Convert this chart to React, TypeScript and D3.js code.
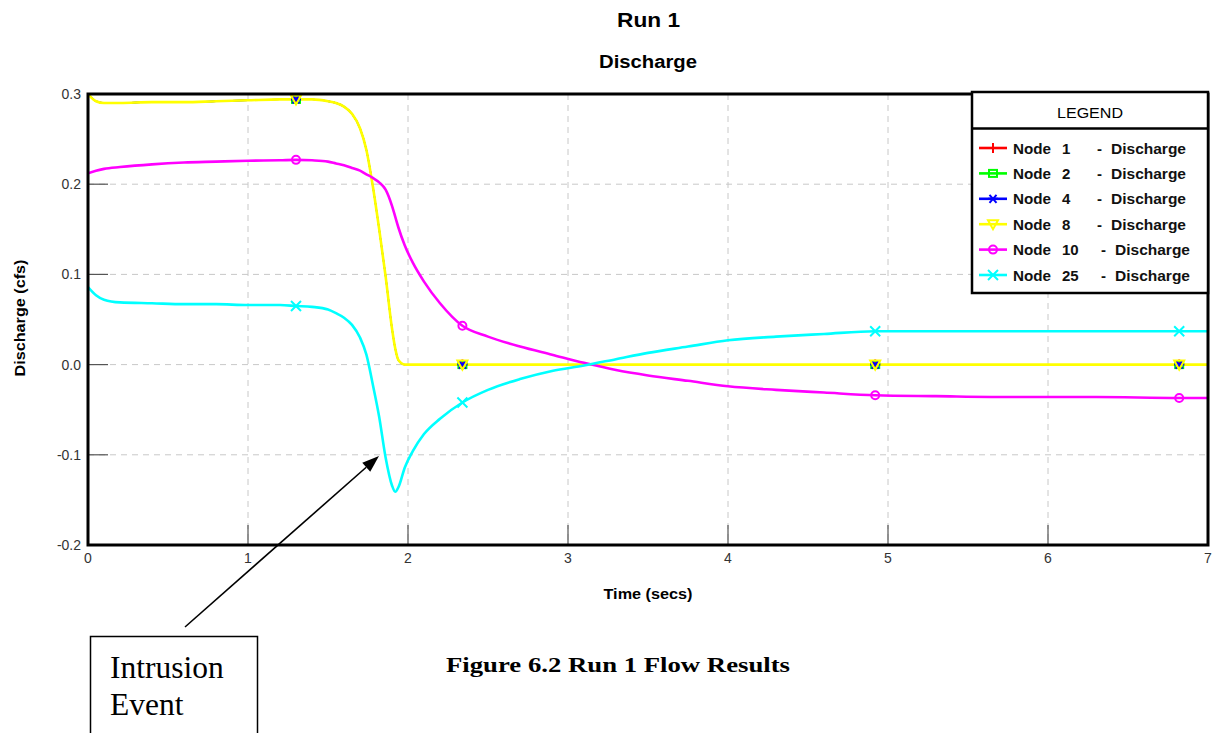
import React from "react";
import * as d3 from "d3";

// Simulation output times (s)
const timeSecs = [
  0, 0.05, 0.1, 0.2, 0.4, 0.6, 0.8, 1.0, 1.2, 1.3, 1.4, 1.5, 1.55, 1.6, 1.65, 1.7,
  1.74, 1.78, 1.82, 1.86, 1.9, 1.92, 1.94, 1.98, 2.03, 2.1, 2.2, 2.34, 2.5, 2.7,
  2.9, 3.1, 3.3, 3.5, 3.75, 4.0, 4.3, 4.6, 4.92, 5.3, 5.8, 6.3, 6.82, 7.0,
];

// Discharge (cfs) at Node 8; Nodes 1, 2 and 4 carry the same flow
const node8Flow = [
  0.3, 0.292, 0.29, 0.29, 0.291, 0.291, 0.292, 0.293, 0.294, 0.294, 0.294, 0.292, 0.29,
  0.286, 0.278, 0.262, 0.238, 0.198, 0.15, 0.098, 0.04, 0.018, 0.005, 0.0, 0.0, 0.0,
  0.0, 0.0, 0.0, 0.0, 0.0, 0.0, 0.0, 0.0, 0.0, 0.0, 0.0, 0.0, 0.0, 0.0, 0.0, 0.0, 0.0, 0.0,
];
const node1Flow = node8Flow;
const node2Flow = node8Flow;
const node4Flow = node8Flow;

const node10Flow = [
  0.212, 0.215, 0.217, 0.219, 0.222, 0.224, 0.225, 0.226, 0.2265, 0.227, 0.2265, 0.225,
  0.223, 0.221, 0.218, 0.215, 0.211, 0.207, 0.202, 0.194, 0.176, 0.164, 0.152, 0.132,
  0.113, 0.092, 0.068, 0.043, 0.031, 0.02, 0.011, 0.002, -0.006, -0.012, -0.018, -0.024,
  -0.028, -0.031, -0.034, -0.035, -0.036, -0.036, -0.037, -0.037,
];

const node25Flow = [
  0.086, 0.077, 0.072, 0.069, 0.068, 0.067, 0.067, 0.066, 0.066, 0.065, 0.064, 0.061,
  0.057, 0.052, 0.044, 0.03, 0.011, -0.022, -0.058, -0.103, -0.134, -0.141, -0.136,
  -0.114, -0.096, -0.077, -0.06, -0.042, -0.028, -0.016, -0.007, -0.001, 0.006, 0.013,
  0.02, 0.027, 0.031, 0.034, 0.037, 0.037, 0.037, 0.037, 0.037, 0.037,
];

// Times at which symbols are plotted on each curve
const markerTimes = [1.3, 2.34, 4.92, 6.82];

const xTicks = [0, 1, 2, 3, 4, 5, 6, 7];
const yTicks = [-0.2, -0.1, 0.0, 0.1, 0.2, 0.3];

type Symbol = "plus" | "square" | "asterisk" | "triangle" | "circle" | "cross";

const seriesNames = ["Node  1", "Node  2", "Node  4", "Node  8", "Node  10", "Node  25"];
const seriesColors = ["#ff0000", "#00ff00", "#0000ff", "#ffff00", "#ff00ff", "#00ffff"];
const seriesSymbols: Symbol[] = ["plus", "square", "asterisk", "triangle", "circle", "cross"];
const seriesValues = [node1Flow, node2Flow, node4Flow, node8Flow, node10Flow, node25Flow];
// Nodes 1, 2 and 4 lie beneath Node 8, so their traces are drawn thinner
const seriesWidths = [1.4, 1.4, 1.4, 2.6, 2.6, 2.6];

const W = 1231;
const H = 733;
const plot = { left: 88, right: 1208, top: 94, bottom: 545 };

const sans = "'Liberation Sans', Arial, Helvetica, sans-serif";
const serif = "'Liberation Serif', 'Times New Roman', Times, serif";

function Marker({ kind, x, y, color }: { kind: Symbol; x: number; y: number; color: string }) {
  const s = 5;
  const common = { stroke: color, strokeWidth: 2, fill: "none" } as const;
  switch (kind) {
    case "plus":
      return <path d={`M${x - s},${y}H${x + s}M${x},${y - s}V${y + s}`} {...common} />;
    case "square":
      return <rect x={x - 4} y={y - 3.5} width={8} height={7} {...common} />;
    case "asterisk":
      return (
        <path
          d={`M${x - s},${y}H${x + s}M${x - 3.5},${y - 4}L${x + 3.5},${y + 4}M${x - 3.5},${y + 4}L${x + 3.5},${y - 4}`}
          {...common}
        />
      );
    case "triangle":
      return <path d={`M${x - 5},${y - 4}H${x + 5}L${x},${y + 5}Z`} {...common} />;
    case "circle":
      return <circle cx={x} cy={y} r={4} {...common} />;
    case "cross":
      return <path d={`M${x - 5},${y - 5}L${x + 5},${y + 5}M${x - 5},${y + 5}L${x + 5},${y - 5}`} {...common} />;
  }
}

export default function App() {
  const x = d3.scaleLinear().domain([0, 7]).range([plot.left, plot.right]);
  const y = d3.scaleLinear().domain([-0.2, 0.3]).range([plot.bottom, plot.top]);

  const line = d3
    .line<number>()
    .x((_, i) => x(timeSecs[i]))
    .y((v) => y(v))
    .curve(d3.curveMonotoneX);

  const legendX = 972;
  const legendY = 92;
  const legendW = 236;
  const legendH = 201;
  const rowY = (i: number) => 148 + i * 25.4;

  // Annotation arrow
  const arrowFrom: [number, number] = [185, 627];
  const arrowTo: [number, number] = [379, 456];
  const ang = Math.atan2(arrowTo[1] - arrowFrom[1], arrowTo[0] - arrowFrom[0]);
  const headLen = 17;
  const headHalf = 6;
  const bx = arrowTo[0] - headLen * Math.cos(ang);
  const by = arrowTo[1] - headLen * Math.sin(ang);
  const head = [
    [arrowTo[0], arrowTo[1]],
    [bx + headHalf * Math.sin(ang), by - headHalf * Math.cos(ang)],
    [bx - headHalf * Math.sin(ang), by + headHalf * Math.cos(ang)],
  ];

  const legendFont = 15;

  return (
    <svg
      width={W}
      height={H}
      viewBox={`0 0 ${W} ${H}`}
      style={{ position: "absolute", left: 0, top: 0, background: "#fff" }}
    >
      <rect x={0} y={0} width={W} height={H} fill="#fff" />

      {/* Titles */}
      <text
        x={648.5}
        y={27}
        textAnchor="middle"
        fontFamily={sans}
        fontWeight="bold"
        fontSize={20}
        fill="#000"
        textLength={63}
        lengthAdjust="spacingAndGlyphs"
      >
        Run 1
      </text>
      <text
        x={648}
        y={68}
        textAnchor="middle"
        fontFamily={sans}
        fontWeight="bold"
        fontSize={18}
        fill="#000"
        textLength={98}
        lengthAdjust="spacingAndGlyphs"
      >
        Discharge
      </text>

      {/* Grid */}
      {xTicks.slice(1, -1).map((t) => (
        <line key={`gx${t}`} x1={x(t)} x2={x(t)} y1={plot.top} y2={plot.bottom} stroke="#c8c8c8" strokeWidth={1} strokeDasharray="6,5" />
      ))}
      {yTicks.slice(1, -1).map((t) => (
        <line key={`gy${t}`} x1={plot.left} x2={plot.right} y1={y(t)} y2={y(t)} stroke="#c8c8c8" strokeWidth={1} strokeDasharray="6,5" />
      ))}

      {/* Inner tick marks */}
      {yTicks.slice(1, -1).map((t) => (
        <line key={`ty${t}`} x1={plot.left} x2={plot.left + 20} y1={y(t)} y2={y(t)} stroke="#555" strokeWidth={1.2} />
      ))}
      {xTicks.slice(1, -1).map((t) => (
        <line key={`tx${t}`} x1={x(t)} x2={x(t)} y1={plot.bottom} y2={plot.bottom - 20} stroke="#555" strokeWidth={1.2} />
      ))}

      {/* Tick labels */}
      {yTicks.map((t) => (
        <text
          key={`ly${t}`}
          x={plot.left - 7}
          y={y(t) + 5}
          textAnchor="end"
          fontFamily={sans}
          fontSize={14}
          fill="#333"
        >
          {t.toFixed(1)}
        </text>
      ))}
      {xTicks.map((t) => (
        <text key={`lx${t}`} x={x(t)} y={563} textAnchor="middle" fontFamily={sans} fontSize={14} fill="#333">
          {t}
        </text>
      ))}

      {/* Axis titles */}
      <text
        x={648}
        y={599}
        textAnchor="middle"
        fontFamily={sans}
        fontWeight="bold"
        fontSize={15}
        fill="#000"
        textLength={89}
        lengthAdjust="spacingAndGlyphs"
      >
        Time (secs)
      </text>
      <text
        transform="translate(25,318) rotate(-90)"
        textAnchor="middle"
        fontFamily={sans}
        fontWeight="bold"
        fontSize={15.5}
        fill="#000"
        textLength={117}
        lengthAdjust="spacingAndGlyphs"
      >
        Discharge (cfs)
      </text>

      {/* Series lines */}
      <defs>
        <clipPath id="plotClip">
          <rect x={plot.left} y={plot.top - 6} width={plot.right - plot.left} height={plot.bottom - plot.top + 6} />
        </clipPath>
      </defs>
      <g clipPath="url(#plotClip)">
        {seriesValues.map((vals, si) => (
          <path key={`s${si}`} d={line(vals) ?? ""} fill="none" stroke={seriesColors[si]} strokeWidth={seriesWidths[si]} />
        ))}
        {seriesValues.map((vals, si) =>
          markerTimes.map((mt) => {
            const idx = timeSecs.indexOf(mt);
            return (
              <Marker
                key={`m${si}-${mt}`}
                kind={seriesSymbols[si]}
                x={x(mt)}
                y={y(vals[idx])}
                color={seriesColors[si]}
              />
            );
          })
        )}
      </g>

      {/* Plot frame */}
      <rect
        x={plot.left}
        y={plot.top}
        width={plot.right - plot.left}
        height={plot.bottom - plot.top}
        fill="none"
        stroke="#000"
        strokeWidth={3}
      />

      {/* Legend */}
      <rect x={legendX} y={legendY} width={legendW} height={legendH} fill="#fff" stroke="#000" strokeWidth={2.5} />
      <line x1={legendX} x2={legendX + legendW} y1={128.5} y2={128.5} stroke="#000" strokeWidth={2.5} />
      <text
        x={1090}
        y={118}
        textAnchor="middle"
        fontFamily={sans}
        fontSize={15}
        fill="#000"
        textLength={66}
        lengthAdjust="spacingAndGlyphs"
      >
        LEGEND
      </text>
      {seriesNames.map((name, i) => {
        const ry = rowY(i);
        const wide = name.length > 7;
        const [word, num] = name.split(/\s+/);
        return (
          <g key={`lg${i}`}>
            <line x1={979} x2={1007} y1={ry} y2={ry} stroke={seriesColors[i]} strokeWidth={2.6} />
            <Marker kind={seriesSymbols[i]} x={993} y={ry} color={seriesColors[i]} />
            <text
              x={1013}
              y={ry + 5.5}
              fontFamily={sans}
              fontWeight="bold"
              fontSize={legendFont}
              fill="#111"
              textLength={38}
              lengthAdjust="spacingAndGlyphs"
            >
              {word}
            </text>
            <text x={1062} y={ry + 5.5} fontFamily={sans} fontWeight="bold" fontSize={legendFont} fill="#111">
              {num}
            </text>
            <text x={wide ? 1101 : 1097} y={ry + 5.5} fontFamily={sans} fontWeight="bold" fontSize={legendFont} fill="#111">
              -
            </text>
            <text
              x={wide ? 1115 : 1111}
              y={ry + 5.5}
              fontFamily={sans}
              fontWeight="bold"
              fontSize={legendFont}
              fill="#111"
              textLength={75}
              lengthAdjust="spacingAndGlyphs"
            >
              Discharge
            </text>
          </g>
        );
      })}

      {/* Annotation */}
      <line x1={arrowFrom[0]} y1={arrowFrom[1]} x2={bx} y2={by} stroke="#000" strokeWidth={1.6} />
      <polygon points={head.map((p) => p.join(",")).join(" ")} fill="#000" />
      <rect x={90.5} y={636.5} width={167} height={100} fill="#fff" stroke="#000" strokeWidth={1.5} />
      <text x={110} y={678} fontFamily={serif} fontSize={31.5} fill="#000">
        Intrusion
      </text>
      <text x={110} y={715} fontFamily={serif} fontSize={31.5} fill="#000">
        Event
      </text>

      {/* Caption */}
      <text
        x={618}
        y={672}
        textAnchor="middle"
        fontFamily={serif}
        fontWeight="bold"
        fontSize={22}
        fill="#000"
        textLength={344}
        lengthAdjust="spacingAndGlyphs"
      >
        Figure 6.2 Run 1 Flow Results
      </text>
    </svg>
  );
}
